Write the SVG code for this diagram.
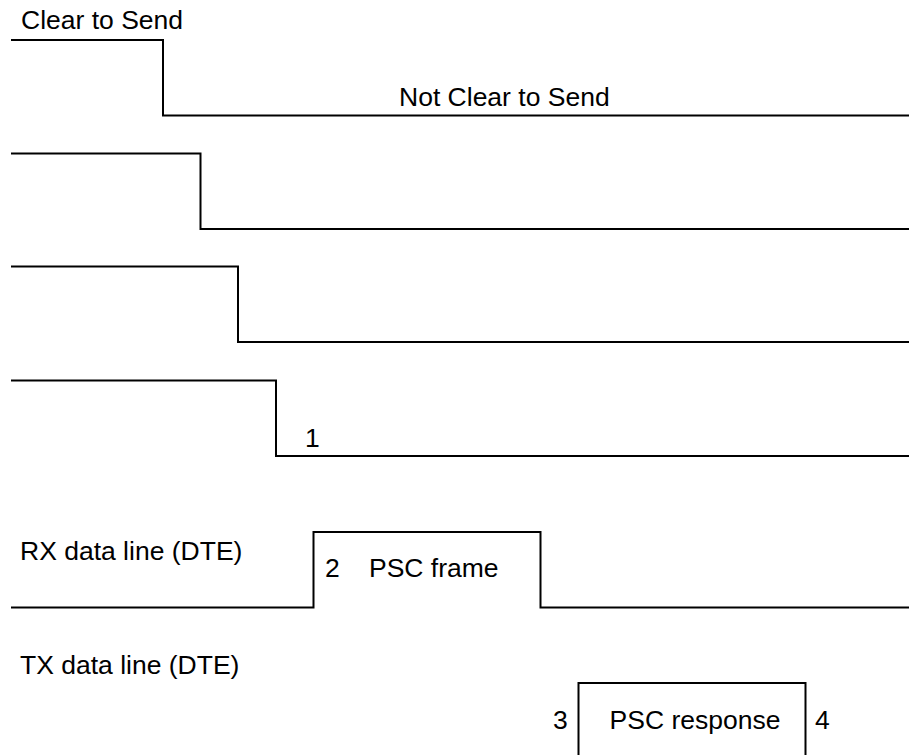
<svg xmlns="http://www.w3.org/2000/svg" width="909" height="755" viewBox="0 0 909 755">
<style>
.sig{fill:none;stroke:#000;stroke-width:2;stroke-linejoin:miter}
text{font-family:"Liberation Sans",Arial,sans-serif;font-size:26.5px;fill:#000}
</style>
<rect width="909" height="755" fill="#fff"/>
<g id="connectors">
<path class="sig" d="M11 40 H163 V115.5 H909"/>
<path class="sig" d="M11 153.5 H200.5 V229 H909"/>
<path class="sig" d="M11 266.5 H238 V342 H909"/>
<path class="sig" d="M11 380.5 H276 V456 H909"/>
<path class="sig" d="M11 607.5 H313.5 V532 H540.5 V607.5 H909"/>
<path class="sig" d="M578.5 756 V683 H805.5 V756"/>
</g>
<g id="cts-label"><text x="21" y="28.5">Clear to Send</text></g>
<g id="ncts-label"><text x="399" y="106">Not Clear to Send</text></g>
<g id="label-1"><text x="305" y="447">1</text></g>
<g id="rx-label"><text x="20" y="560">RX data line (DTE)</text></g>
<g id="psc-frame"><text x="325" y="577">2</text><text x="369" y="577">PSC frame</text></g>
<g id="tx-label"><text x="20" y="674">TX data line (DTE)</text></g>
<g id="psc-response"><text x="553" y="729">3</text><text x="695" y="729" text-anchor="middle">PSC response</text><text x="815" y="729">4</text></g>
</svg>
